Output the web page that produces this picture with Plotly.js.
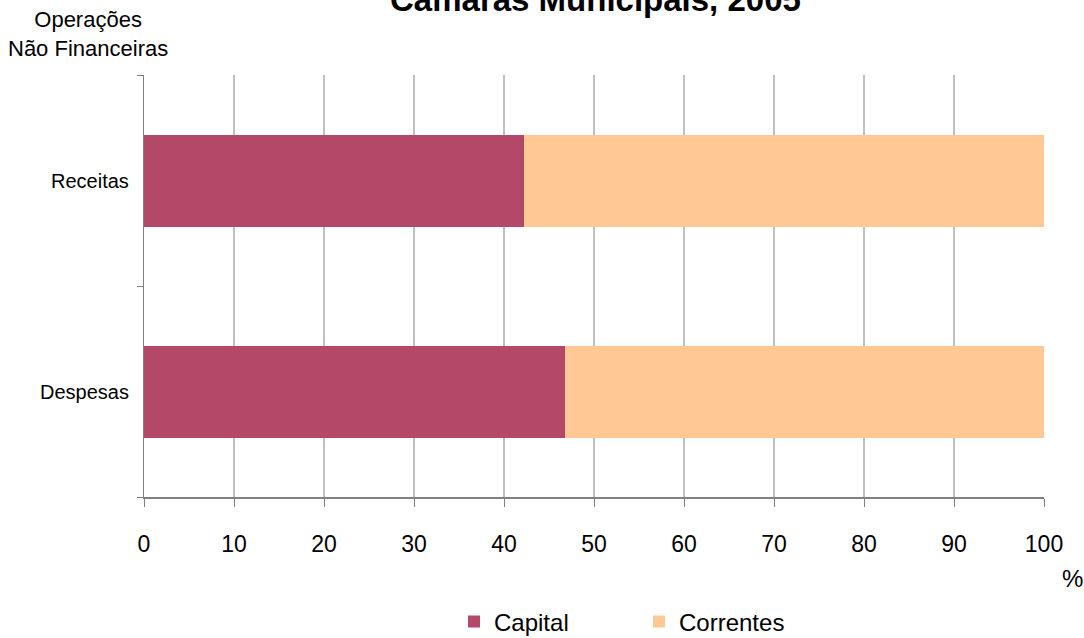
<!DOCTYPE html>
<html><head><meta charset="utf-8">
<script src="https://cdn.plot.ly/plotly-3.0.1.min.js"></script>
<style>html,body{margin:0;padding:0;background:#fff;}#chart{width:1084px;height:638px;}</style>
</head><body><div id="chart"></div>
<script>
const categories = ["Despesas", "Receitas"];
const capital = [46.8, 42.2];
const correntes = [53.2, 57.8];
const seriesNames = ["Capital", "Correntes"];
const xTicks = [0,10,20,30,40,50,60,70,80,90,100];

const sans = "Liberation Sans, Arial, sans-serif";
const traces = [
  {type:"bar", orientation:"h", name:seriesNames[0], y:categories, x:capital,
   marker:{color:"#b34869", line:{width:0}}, width:0.436, hoverinfo:"x+y"},
  {type:"bar", orientation:"h", name:seriesNames[1], y:categories, x:correntes,
   marker:{color:"#ffc894", line:{width:0}}, width:0.436, hoverinfo:"x+y"}
];
const layout = {
  width:1084, height:638, barmode:"stack",
  paper_bgcolor:"#fff", plot_bgcolor:"#fff",
  margin:{l:144, r:40, t:75, b:141, autoexpand:false},
  font:{family:sans, color:"#000", size:19},
  xaxis:{range:[0,100], tickvals:xTicks, showgrid:true, gridcolor:"#c0c0c0", gridwidth:1.5,
    zeroline:false, showline:true, linecolor:"#808080", linewidth:2,
    ticks:"outside", ticklen:8, tickcolor:"#808080", ticklabelstandoff:17,
    tickfont:{family:sans, size:23}},
  yaxis:{range:[-0.5,1.5], showgrid:false, zeroline:false, showline:true, linecolor:"#808080", linewidth:1.5,
    tickvals:[-0.5,0.5,1.5], ticktext:["","",""], ticks:"outside", ticklen:6, tickcolor:"#808080"},
  showlegend:true,
  legend:{orientation:"h", traceorder:"normal", x:0.55, xanchor:"center", y:-0.296, yanchor:"middle",
    font:{family:sans, size:24}, itemwidth:30, entrywidth:140, entrywidthmode:"pixels"},
  annotations:[
    {text:"<b>Câmaras Municipais, 2005</b>", xref:"paper", yref:"paper", x:0.502, y:1.130,
     xanchor:"center", yanchor:"bottom", showarrow:false,
     font:{family:sans, size:33, color:"#000"}},
    {text:"Operações<br>Não Financeiras", xref:"paper", yref:"paper", x:-0.062, y:1.097,
     xanchor:"center", yanchor:"middle", showarrow:false, align:"center",
     font:{family:sans, size:22, color:"#000"}},
    {text:"%", xref:"paper", yref:"paper", x:1.032, y:-0.192, xanchor:"center", yanchor:"middle",
     showarrow:false, font:{family:sans, size:24, color:"#000"}},
    {text:"Receitas", xref:"paper", yref:"y", x:-0.015, y:1, xanchor:"right", yanchor:"middle",
     showarrow:false, font:{family:sans, size:20, color:"#000"}},
    {text:"Despesas", xref:"paper", yref:"y", x:-0.015, y:0, xanchor:"right", yanchor:"middle",
     showarrow:false, font:{family:sans, size:20, color:"#000"}}
  ]
};
Plotly.newPlot("chart", traces, layout, {displayModeBar:false, staticPlot:true});
</script></body></html>
